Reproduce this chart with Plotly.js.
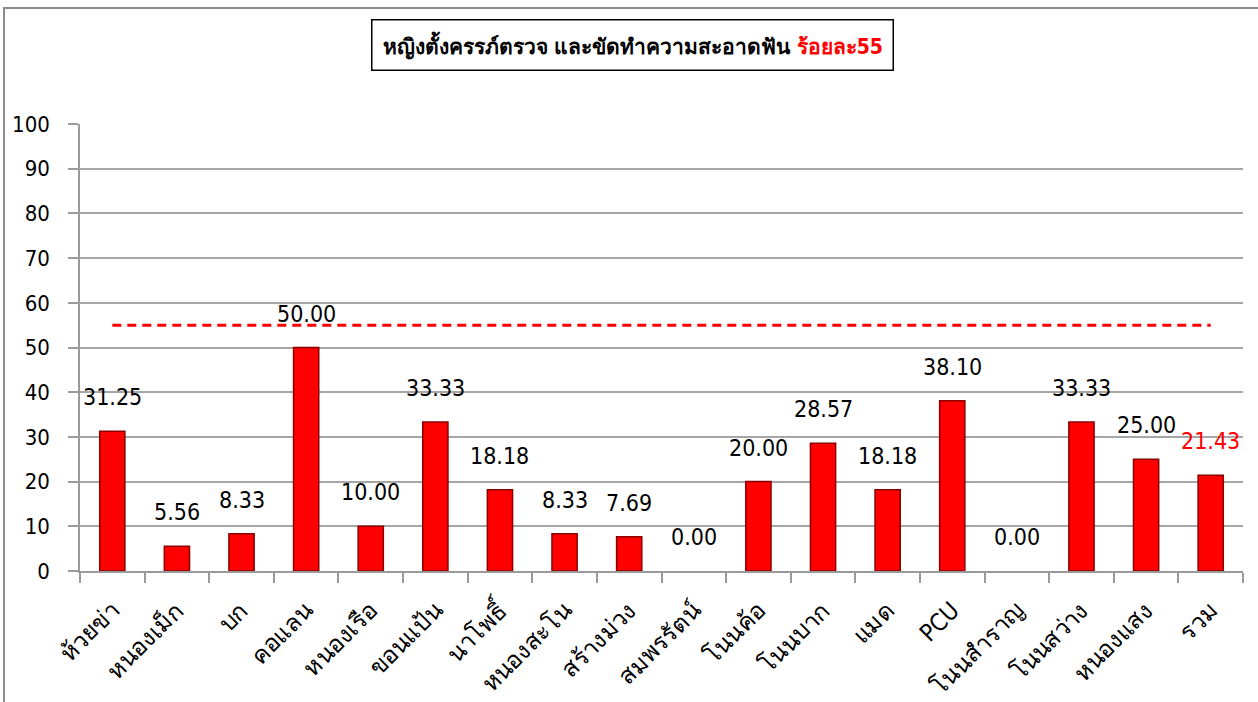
<!DOCTYPE html>
<html>
<head>
<meta charset="utf-8">
<script src="https://cdn.plot.ly/plotly-3.0.1.min.js"></script>
<style>
  body { margin: 0; background: #fff; }
  #wrap { position: relative; width: 1258px; height: 702px; overflow: hidden; }
  #chart { width: 1258px; height: 702px; }
  /* chart area frame, only left and top edges fall inside the picture */
  #frame { position: absolute; z-index: 10; left: 3px; top: 7px; width: 1300px; height: 800px;
           border-left: 2px solid #8c8c8c; border-top: 2px solid #8c8c8c; pointer-events: none; }
</style>
</head>
<body>
<div id="wrap">
  <div id="chart"></div>
  <div id="frame"></div>
</div>
<script>
// หญิงตั้งครรภ์ตรวจ และขัดทำความสะอาดฟัน - ร้อยละ
var places = ['ห้วยข่า', 'หนองเม็ก', 'บก', 'คอแลน', 'หนองเรือ', 'ขอนแป้น', 'นาโพธิ์', 'หนองสะโน',
  'สร้างม่วง', 'สมพรรัตน์', 'โนนค้อ', 'โนนบาก', 'แมด', 'PCU', 'โนนสำราญ', 'โนนสว่าง', 'หนองแสง', 'รวม'];
var percent = [31.25, 5.56, 8.33, 50.00, 10.00, 33.33, 18.18, 8.33, 7.69, 0.00,
  20.00, 28.57, 18.18, 38.10, 0.00, 33.33, 25.00, 21.43];
var target = 55;
var yTicks = [0, 10, 20, 30, 40, 50, 60, 70, 80, 90, 100];

var font = "Tahoma, 'DejaVu Sans Condensed', 'DejaVu Sans', sans-serif";

var bars = {
  x: places,
  y: percent,
  type: 'bar',
  width: 0.39,
  marker: {
    color: '#ff0000',
    // no outline on empty bars, otherwise a thin red dash shows on the axis
    line: { color: '#8a0000', width: percent.map(function (v) { return v > 0 ? 1.5 : 0; }) }
  },
  hoverinfo: 'x+y'
};

var goal = {
  x: places,
  y: places.map(function () { return target; }),
  type: 'scatter',
  mode: 'lines',
  line: { color: '#ff0000', width: 3, dash: '9px,6px' },
  hoverinfo: 'skip'
};

// value labels sit a little above each bar
var labels = places.map(function (p, i) {
  return {
    x: p,
    y: percent[i],
    text: percent[i].toFixed(2),
    showarrow: false,
    yanchor: 'middle',
    yshift: 34,
    font: { family: font, size: 23, color: p === 'รวม' ? '#ff0000' : '#000' }
  };
});

labels.push({
  xref: 'paper', yref: 'paper',
  x: (632 - 80) / 1163, y: 1 + (124 - 45) / 447,
  xanchor: 'center', yanchor: 'middle',
  text: '<b>หญิงตั้งครรภ์ตรวจ และขัดทำความสะอาดฟัน <span style="color:#ff0000">ร้อยละ55</span></b>',
  showarrow: false,
  bordercolor: '#000',
  borderwidth: 1.5,
  borderpad: 10,
  bgcolor: '#fff',
  font: { family: font, size: 21, color: '#000' }
});

var layout = {
  width: 1258,
  height: 702,
  margin: { l: 80, r: 15, t: 124, b: 131 },
  showlegend: false,
  paper_bgcolor: '#fff',
  plot_bgcolor: '#fff',
  font: { family: font, color: '#000' },
  xaxis: {
    type: 'category',
    tickangle: -45,
    tickfont: { family: font, size: 24 },
    ticks: 'outside',
    tickson: 'boundaries',
    ticklen: 10,
    tickcolor: '#9a9a9a',
    tickwidth: 1.5,
    ticklabelstandoff: 14,
    showline: true,
    linecolor: '#9a9a9a',
    linewidth: 1.5,
    showgrid: false
  },
  yaxis: {
    range: [0, 100],
    tickvals: yTicks,
    tickfont: { family: font, size: 22 },
    ticks: 'outside',
    ticklen: 10,
    tickcolor: '#9a9a9a',
    tickwidth: 1.5,
    ticklabelstandoff: 14,
    showline: true,
    linecolor: '#9a9a9a',
    linewidth: 1.5,
    showgrid: true,
    gridcolor: '#a6a6a6',
    gridwidth: 1.5,
    zeroline: false
  },
  annotations: labels
};

Plotly.newPlot('chart', [bars, goal], layout, { displayModeBar: false });
</script>
</body>
</html>
